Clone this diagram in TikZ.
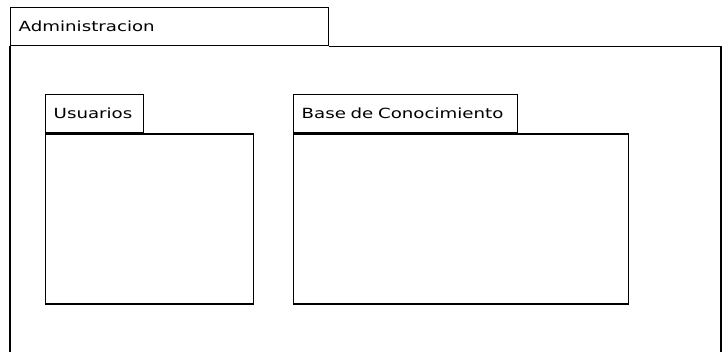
\documentclass[tikz,border=0pt]{standalone}
\usepackage{fontspec}
\usepackage{tikz}
\usetikzlibrary{positioning}
\newfontfamily\pkgfont[FakeStretch=1.3]{DejaVu Sans}
\tikzset{pkgtab/.style={draw, line width=1.4pt, anchor=north west, align=left,
  inner xsep=8pt, inner ysep=0pt, minimum height=38pt,
  font=\pkgfont\fontsize{14}{16}\selectfont},
  pkgbody/.style={draw, line width=1.4pt, anchor=north west, inner sep=0pt}}

\begin{document}
\begin{tikzpicture}[x=1pt, y=-1pt]
      \useasboundingbox (0, 0) rectangle (725, 352);

      \node [pkgtab, text width=302pt] (admtab) at (10, 7) {Administracion};
      \coordinate (admleft) at (10, 352);
      \coordinate (admright) at (721, 352);
      \coordinate (admtop) at (721, 0 |- admtab.south);
      \draw [line width=1.4pt] (admtab.south west) -- (admleft);
      \draw [line width=1.4pt] (admtab.south east) -- (admtop) -- (admright);

      \node [pkgtab, text width=82pt] (usrtab) at (45, 94) {Usuarios};
      \node [pkgbody, minimum width=208pt, minimum height=170pt] (usrbody) at (usrtab.south west) {};

      \node [pkgtab, text width=208pt] (bcotab) at (293, 94) {Base de Conocimiento};
      \node [pkgbody, minimum width=335pt, minimum height=170pt] (bcobody) at (bcotab.south west) {};
    \end{tikzpicture}
\end{document}
